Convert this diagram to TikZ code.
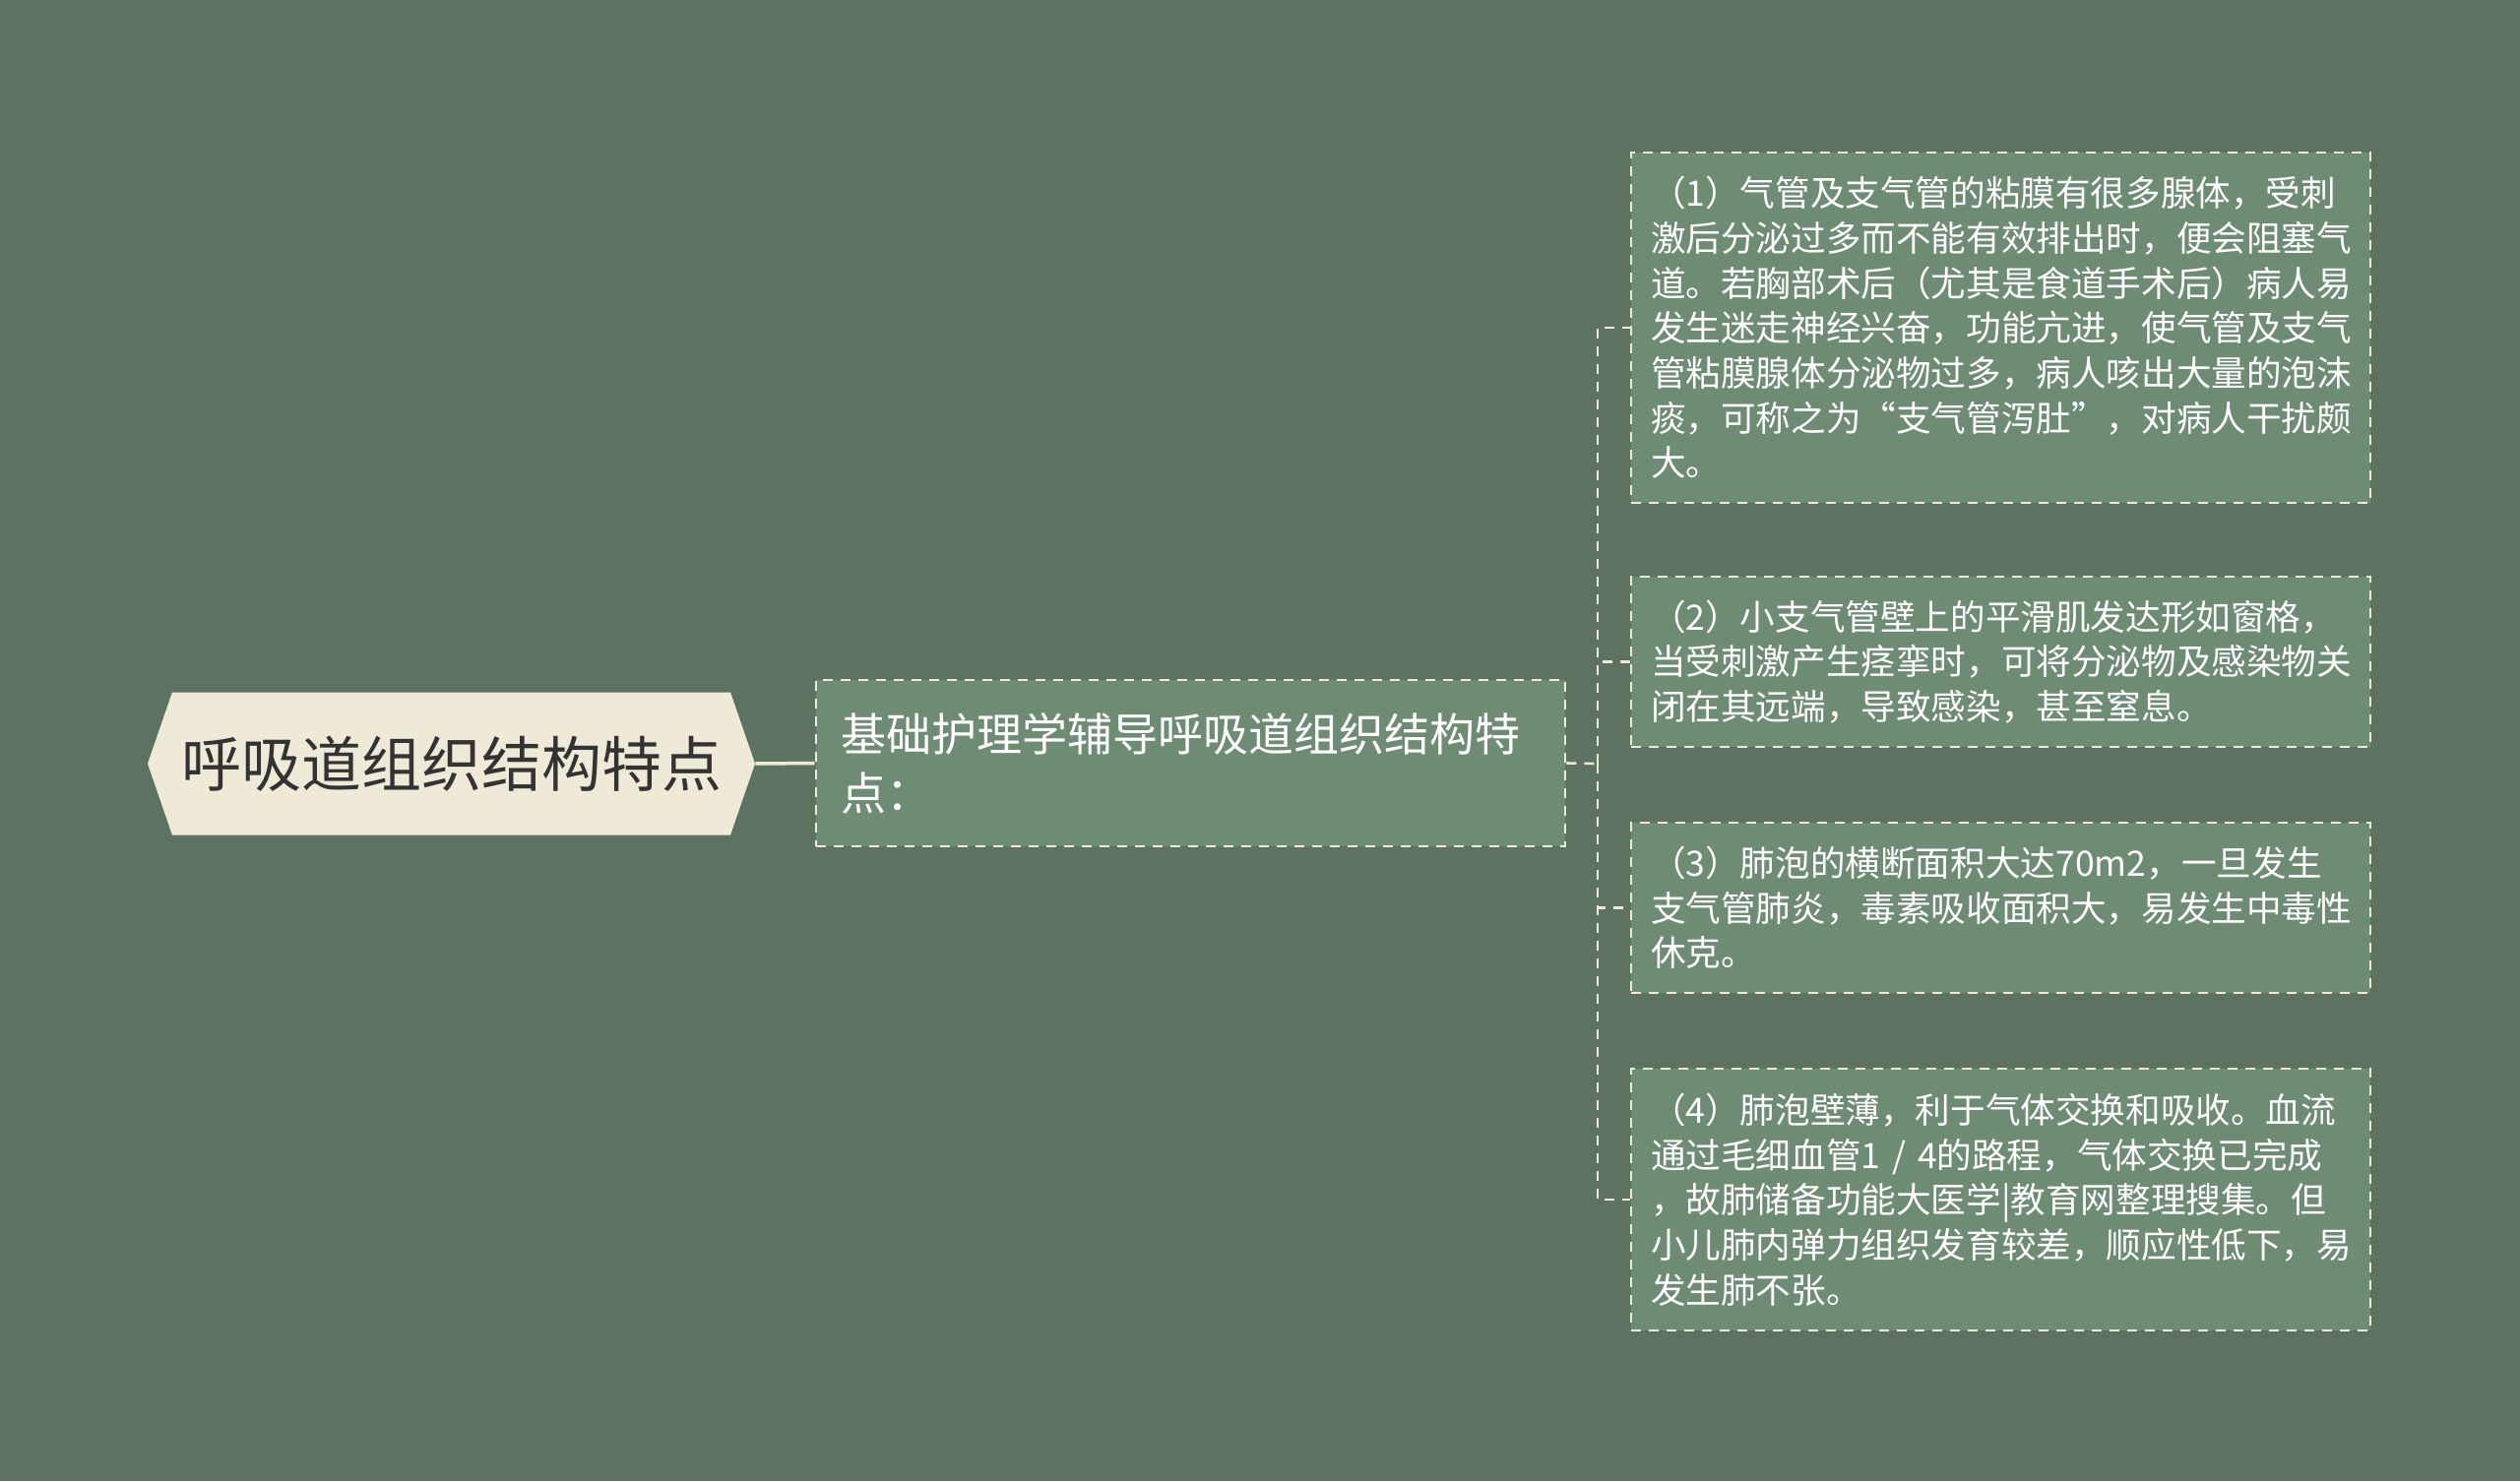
\documentclass[tikz,border=0pt]{standalone}
\usepackage{fontspec}
\setmainfont{Noto Sans CJK SC}
\usetikzlibrary{positioning,shapes.symbols}
\definecolor{bgcol}{RGB}{94,114,98}
\definecolor{boxcol}{RGB}{110,139,116}
\definecolor{creamcol}{RGB}{239,234,216}
\definecolor{inkcol}{RGB}{51,51,51}

\begin{document}
\begin{tikzpicture}[x=0.5pt,y=-0.5pt,
  rootnode/.style={signal, signal to=west and east, signal pointer angle=142,
    fill=creamcol, text=inkcol, minimum width=308.5pt, minimum height=72.5pt,
    inner sep=0pt, font=\fontsize{30.5pt}{36pt}\selectfont},
  boxline/.style={draw=creamcol, line width=1.3pt, dash pattern=on 5pt off 4pt},
  subnode/.style={boxline, fill=boxcol, text=white, align=left, text width=355.5pt,
    minimum height=84.5pt, inner xsep=12.5pt, inner ysep=0pt,
    font=\fontsize{23pt}{30pt}\selectfont},
  leafnode/.style={boxline, fill=boxcol, text=white, align=left, text width=355.5pt,
    inner xsep=10pt, inner ysep=0pt, font=\fontsize{17.8pt}{22.85pt}\selectfont},
  link/.style={draw=creamcol, line width=1.3pt, dash pattern=on 5pt off 4pt}]
\fill [bgcol] (0,0) rectangle (2560,1505);
\useasboundingbox (0,0) rectangle (2560,1505);
\node (root) [rootnode] at (458.5,776) {呼吸道组织结构特点};
\node (sub) [subnode] at (1209.5,775.5) {基础护理学辅导呼吸道组织结构特\\点：};
\coordinate (trunk) at (1623,776);
\node (b1) [leafnode, minimum height=178pt] at (2032.5,333) {（1）气管及支气管的粘膜有很多腺体，受刺\\激后分泌过多而不能有效排出时，便会阻塞气\\道。若胸部术后（尤其是食道手术后）病人易\\发生迷走神经兴奋，功能亢进，使气管及支气\\管粘膜腺体分泌物过多，病人咳出大量的泡沫\\痰，可称之为“支气管泻肚”，对病人干扰颇\\大。};
\node (b2) [leafnode, minimum height=86.5pt] at (2032.5,672.5) {（2）小支气管壁上的平滑肌发达形如窗格，\\当受刺激产生痉挛时，可将分泌物及感染物关\\闭在其远端，导致感染，甚至窒息。};
\node (b3) [leafnode, minimum height=86.5pt] at (2032.5,922.5) {（3）肺泡的横断面积大达70m2，一旦发生\\支气管肺炎，毒素吸收面积大，易发生中毒性\\休克。};
\node (b4) [leafnode, minimum height=133pt] at (2032.5,1219) {（4）肺泡壁薄，利于气体交换和吸收。血流\\通过毛细血管1~/~4的路程，气体交换已完成\\，故肺储备功能大医学|教育网整理搜集。但\\小儿肺内弹力组织发育较差，顺应性低下，易\\发生肺不张。};
\draw [creamcol, line width=1.75pt] (root.east) -- (sub.west);
\draw [link] (sub.east) -- (trunk);
\foreach \leaf in {b1,b2,b3,b4}
  \draw [link] (trunk) |- (\leaf.west);
\end{tikzpicture}
\end{document}
